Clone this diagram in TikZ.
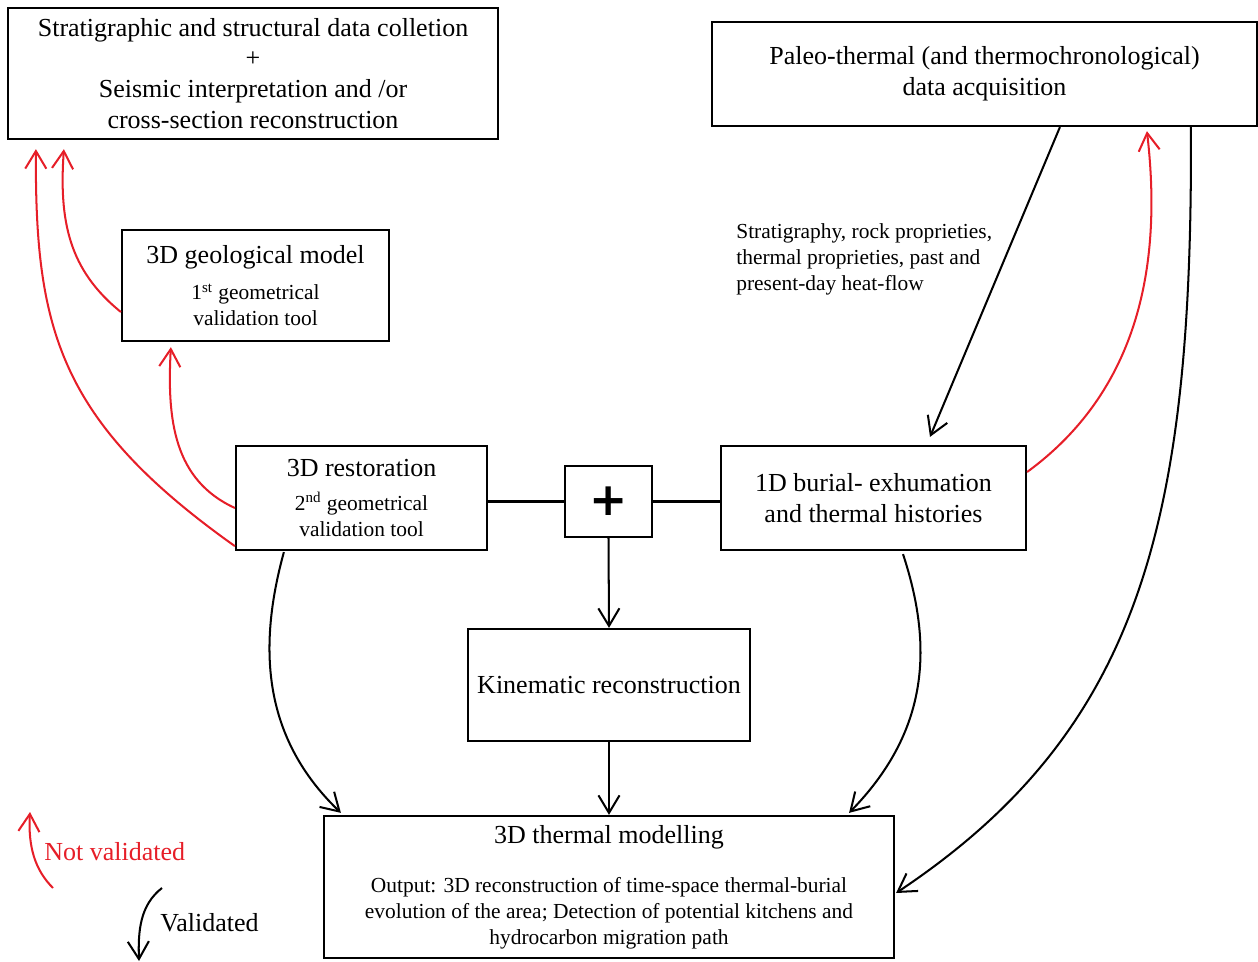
\documentclass[tikz,border=0pt]{standalone}
\usepackage{fontspec}
\setmainfont{Liberation Serif}
\newfontfamily\plusfont{DejaVu Sans}
\usetikzlibrary{arrows.meta}
\definecolor{nvred}{RGB}{230,30,40}
\newcommand\bigf{\fontsize{14.8}{17.6}\selectfont}
\newcommand\smallf{\fontsize{12.2}{14.8}\selectfont}

\begin{document}
\begin{tikzpicture}[x=0.02cm,y=-0.02cm,
  box/.style={draw, line width=1.3pt, inner sep=0pt, align=center, font=\bigf},
  twobox/.style={box, font=\smallf},
  flow/.style={line width=1.15pt, -{Straight Barb[length=10pt,width=12pt]}},
  back/.style={flow, draw=nvred},
  link/.style={line width=1.15pt}]
\useasboundingbox (0,0) rectangle (1258,962);

% ---- boxes ----
\node[box, minimum width=9.8cm, minimum height=2.62cm] (top) at (253,73.5)
  {Stratigraphic and structural data colletion\\+\\Seismic interpretation and /or\\cross-section reconstruction};
\node[box, minimum width=10.9cm, minimum height=2.08cm] (paleo) at (984.5,74)
  {Paleo-thermal (and thermochronological)\\data acquisition};
\node[twobox, minimum width=5.34cm, minimum height=2.22cm] (geo) at (255.5,285.5)
  {\bigf 3D geological model\\[6pt]1\textsuperscript{st} geometrical\\validation tool};
\node[twobox, minimum width=5.02cm, minimum height=2.08cm] (rest) at (361.5,498)
  {\bigf 3D restoration\\[4pt]2\textsuperscript{nd} geometrical\\validation tool};
\node[box, minimum width=1.74cm, minimum height=1.42cm,
      font=\plusfont\bfseries\fontsize{26}{26}\selectfont] (plus) at (608.5,501.5) {+};
\node[box, minimum width=6.1cm, minimum height=2.08cm] (burial) at (873.5,498)
  {1D burial- exhumation\\and thermal histories};
\node[box, minimum width=5.64cm, minimum height=2.24cm] (kin) at (609,685)
  {Kinematic reconstruction};
\node[twobox, minimum width=11.4cm, minimum height=2.84cm] (therm) at (609,887)
  {\bigf 3D thermal modelling\\[13pt]Output: 3D reconstruction of time-space thermal-burial\\
   evolution of the area; Detection of potential kitchens and\\hydrocarbon migration path};

% ---- free text ----
\node[anchor=west, align=left, font=\smallf, inner sep=0pt] (data) at (736,259)
  {Stratigraphy, rock proprieties,\\thermal proprieties, past and\\present-day heat-flow};
\node[anchor=west, font=\bigf, text=nvred, inner sep=0pt] (nvlab) at (44,852) {Not validated};
\node[anchor=west, font=\bigf, inner sep=0pt] (vlab) at (160,923) {Validated};

% ---- straight links ----
\draw[link] (rest.east |- plus.west) -- (plus.west);
\draw[link] (plus.east) -- (plus.east -| burial.west);
\draw[flow] (plus.south) -- (kin.north);
\draw[flow] (kin.south) -- (therm.north);
\draw[flow] ([shift={(349,0)}]paleo.south west) -- ([shift={(56.5,-8)}]burial.north);

% ---- validated paths ----
\draw[flow] ([shift={(49,1)}]rest.south west)
  .. controls +(-27,98) and +(-77,-74) .. ([shift={(18,-2)}]therm.north west);
\draw[flow] ([shift={(29.5,3)}]burial.south)
  .. controls +(32,97) and +(77,-79) .. ([shift={(-46,-2)}]therm.north east);
\draw[flow] ([shift={(480,0)}]paleo.south west)
  .. controls +(2,394) and +(245,-163) .. ([shift={(1,6)}]therm.east);

% ---- not validated paths ----
\draw[back] ([shift={(0,-5)}]rest.south west)
  .. controls +(-176,-125) and +(-1,180) .. ([shift={(29,9)}]top.south west);
\draw[back] ([shift={(0,10)}]rest.west)
  .. controls +(-61,-28) and +(-4,73) .. ([shift={(50,5)}]geo.south west);
\draw[back] ([shift={(0,26.5)}]geo.west)
  .. controls +(-52,-42) and +(-5,72) .. ([shift={(57,9)}]top.south west);
\draw[back] ([shift={(0,-26)}]burial.east)
  .. controls +(119,-87) and +(14,120) .. ([shift={(436,4)}]paleo.south west);

% ---- key ----
\coordinate (nvS) at (53,888);
\coordinate (nvE) at (30,812);
\draw[back] (nvS) .. controls +(-18,-18) and +(-2,35) .. (nvE);
\coordinate (vS) at (162,888);
\coordinate (vE) at (139,961);
\draw[flow] (vS) .. controls +(-22,17) and +(-1,-30) .. (vE);
\end{tikzpicture}
\end{document}
